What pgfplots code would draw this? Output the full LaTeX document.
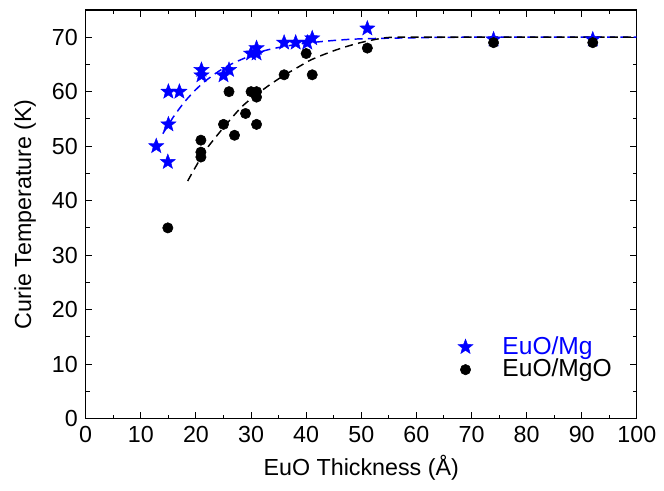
\documentclass[border=0pt]{standalone}
\usepackage{pgfplots}
\pgfplotsset{compat=1.18}
\usepackage{fontspec}
\setmainfont{Liberation Sans}
\pgfdeclareplotmark{fstar}{%
  \pgfpathmoveto{\pgfpointpolar{90}{\pgfplotmarksize}}%
  \pgfpathlineto{\pgfpointpolar{126}{0.42\pgfplotmarksize}}%
  \pgfpathlineto{\pgfpointpolar{162}{\pgfplotmarksize}}%
  \pgfpathlineto{\pgfpointpolar{198}{0.42\pgfplotmarksize}}%
  \pgfpathlineto{\pgfpointpolar{234}{\pgfplotmarksize}}%
  \pgfpathlineto{\pgfpointpolar{270}{0.42\pgfplotmarksize}}%
  \pgfpathlineto{\pgfpointpolar{306}{\pgfplotmarksize}}%
  \pgfpathlineto{\pgfpointpolar{342}{0.42\pgfplotmarksize}}%
  \pgfpathlineto{\pgfpointpolar{18}{\pgfplotmarksize}}%
  \pgfpathlineto{\pgfpointpolar{54}{0.42\pgfplotmarksize}}%
  \pgfpathclose
  \pgfusepathqfillstroke}
\begin{document}
\fontsize{17.5}{20}\selectfont
\begin{tikzpicture}
\begin{axis}[
  scale only axis,
  width=414.75pt, height=307.5pt,
  xmin=0, xmax=100, ymin=0, ymax=75,
  xtick={0,10,...,100}, ytick={0,10,...,70},
  minor xtick={5,15,...,95}, minor ytick={5,15,...,75},
  tick align=inside,
  major tick length=5pt, minor tick length=3pt,
  tick style={black, line width=0.8pt},
  axis line style={line width=0.9pt},
  /pgf/number format/assume math mode=true,
  tick label style={font=\fontsize{17.5}{20}\selectfont},
  label style={font=\fontsize{17.5}{20}\selectfont},
  xlabel={EuO Thickness (Å)},
  ylabel={Curie Temperature (K)},
  xlabel style={yshift=3pt},
  ylabel style={yshift=0pt},
  legend style={draw=none, fill=none, at={(0.967,0.08)}, anchor=south east,
    font=\fontsize{18.5}{21}\selectfont, row sep=-3pt},
  legend image code/.code={\draw[#1] plot coordinates {(0cm,0cm)}; \path (-0.25cm,0cm) (0.9cm,0cm);},
  legend cell align=left,
]
% fits
\addplot[blue, line width=1.1pt, dash pattern=on 6pt off 4pt, smooth, forget plot] coordinates {
(14,52.3)(16,55.5)(18,58.2)(20,60.4)(22,62.2)(25,64.3)(28,65.8)(32,67.4)(36,68.3)(40,68.9)(45,69.4)(50,69.7)(60,69.9)(70,70)(100,70)};
\addplot[black, line width=1.1pt, dash pattern=on 6pt off 4pt, smooth, forget plot] coordinates {
(18.5,43.6)(20,46.3)(22,49.6)(25,53.4)(28,56.9)(30,58.7)(33.3,61.2)(36,63.0)(38.7,64.6)(41,65.9)(44.7,67.4)(47.7,68.4)(50.7,69.2)(54.4,69.9)(58,70)(70,70)(100,70)};
% data
\addplot[only marks, mark=fstar, mark size=6pt, mark options={fill=blue, draw=blue, line width=0.3pt, solid}]
 coordinates {
(12.8,50)(14.9,47.1)(15,54)(15,60)(17,60)(21,63)(21,64)(25,63)(26,64)(30,67)(31,67)(31,68)(36,69)(38.1,69)(40.2,69)(41.1,69.8)(51.1,71.6)(74,69.6)(92,69.6)};
\addlegendentry{\textcolor{blue}{EuO/Mg}}
\addplot[only marks, mark=*, mark size=3.9pt, black] coordinates {
(14.9,35)(20.9,51.1)(20.9,48.9)(20.9,48)(25,54)(26,60)(27,52)(29,56)(30,60)(31,60)(31,59)(31,54)(36,63.1)(40,67)(41.1,63.1)(51.1,68)(74,69)(92,69)};
\addlegendentry{EuO/MgO}
\end{axis}
\path (current axis.south west)+(-64.5pt,-54pt) (current axis.north east)+(18.75pt,7.5pt);
\end{tikzpicture}
\end{document}
